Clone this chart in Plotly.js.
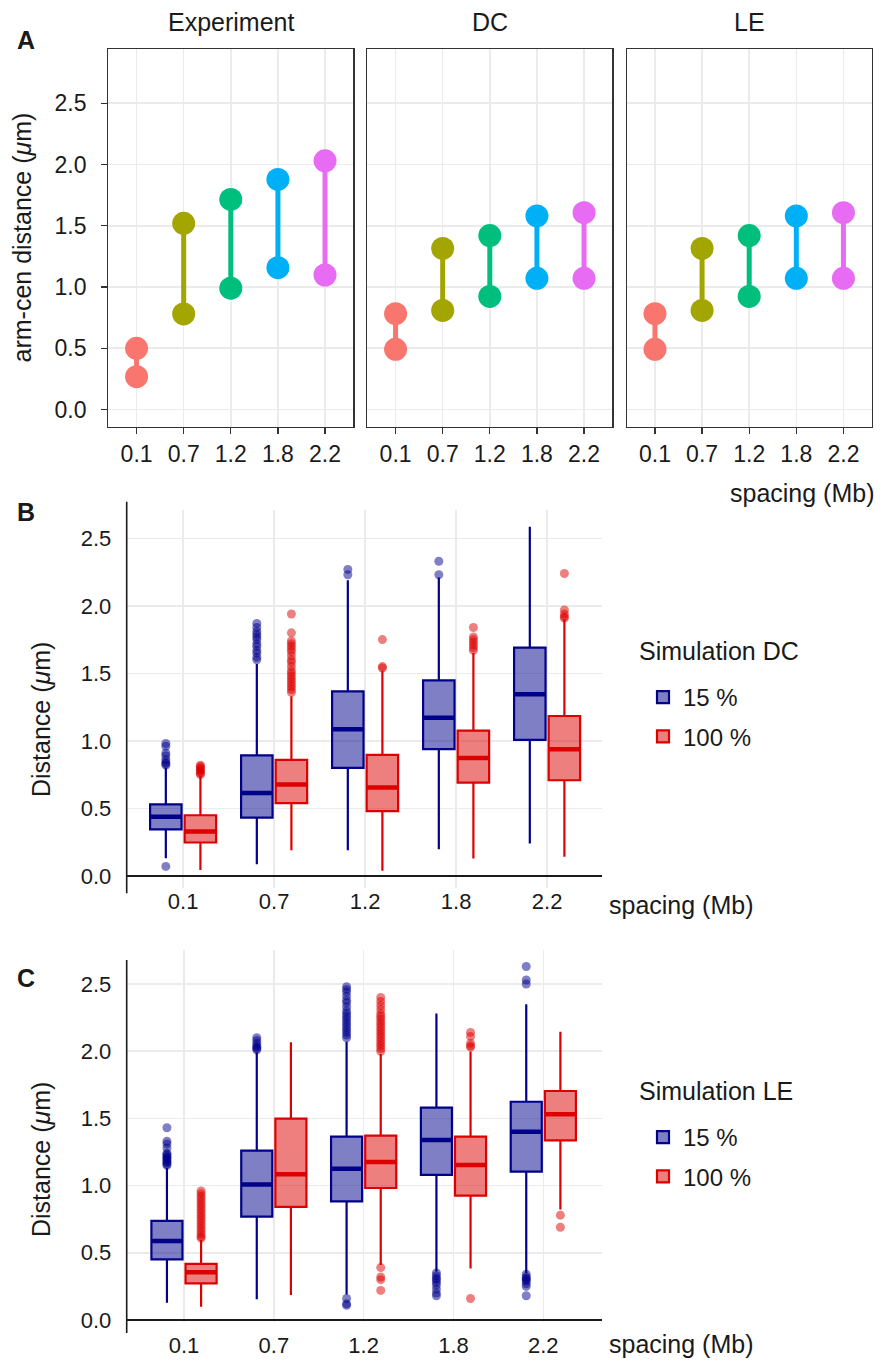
<!DOCTYPE html>
<html>
<head>
<meta charset="utf-8">
<script src="https://cdn.plot.ly/plotly-3.0.1.min.js"></script>
<style>html,body{margin:0;padding:0;background:#fff;}#chart{width:880px;height:1360px;}</style>
</head>
<body>
<div id="chart"></div>
<script>
// ---------------- DATA ----------------
const spacing = ['0.1', '0.7', '1.2', '1.8', '2.2'];
const dotColors = ['#F8766D', '#A3A500', '#00BF7D', '#00B0F6', '#E76BF3'];

// Panel A : arm-cen distance (um), two values per spacing
const expHigh = [0.50, 1.52, 1.715, 1.878, 2.03];
const expLow  = [0.268, 0.78, 0.99, 1.158, 1.098];
const dcHigh  = [0.782, 1.315, 1.42, 1.58, 1.607];
const dcLow   = [0.492, 0.809, 0.923, 1.071, 1.071];
const leHigh  = [0.782, 1.315, 1.42, 1.58, 1.607];
const leLow   = [0.492, 0.809, 0.923, 1.071, 1.071];

// Panel B : Simulation DC box statistics
const dc15Lower  = [0.13, 0.086, 0.19, 0.197, 0.239];
const dc15Q1     = [0.345, 0.432, 0.80, 0.938, 1.007];
const dc15Median = [0.437, 0.614, 1.086, 1.172, 1.345];
const dc15Q3     = [0.53, 0.893, 1.367, 1.448, 1.69];
const dc15Upper  = [0.80, 1.57, 2.19, 2.21, 2.586];
const dc15OutX = ['0.1','0.1','0.1','0.1','0.1','0.1','0.1','0.1','0.1',
  '0.7','0.7','0.7','0.7','0.7','0.7','0.7','0.7','0.7','0.7','0.7','0.7',
  '1.2','1.2','1.8','1.8'];
const dc15OutY = [0.82,0.83,0.84,0.86,0.89,0.91,0.96,0.98,0.07,
  1.60,1.62,1.65,1.67,1.70,1.72,1.75,1.77,1.79,1.81,1.84,1.87,
  2.23,2.27,2.23,2.33];

const dc100Lower  = [0.044, 0.19, 0.037, 0.128, 0.141];
const dc100Q1     = [0.247, 0.538, 0.479, 0.691, 0.708];
const dc100Median = [0.328, 0.676, 0.654, 0.873, 0.938];
const dc100Q3     = [0.449, 0.859, 0.896, 1.076, 1.184];
const dc100Upper  = [0.74, 1.33, 1.52, 1.65, 1.90];
const dc100OutX = ['0.1','0.1','0.1','0.1','0.1','0.1','0.1','0.1',
  '0.7','0.7','0.7','0.7','0.7','0.7','0.7','0.7','0.7','0.7','0.7','0.7','0.7','0.7','0.7','0.7','0.7','0.7','0.7','0.7',
  '1.2','1.2','1.2',
  '1.8','1.8','1.8','1.8','1.8','1.8','1.8',
  '2.2','2.2','2.2','2.2','2.2'];
const dc100OutY = [0.75,0.76,0.77,0.78,0.79,0.80,0.81,0.82,
  1.36,1.38,1.40,1.42,1.44,1.46,1.48,1.50,1.52,1.55,1.58,1.60,1.63,1.66,1.68,1.70,1.72,1.74,1.80,1.94,
  1.54,1.55,1.75,
  1.67,1.69,1.71,1.73,1.75,1.77,1.84,
  1.91,1.92,1.94,1.97,2.24];

// Panel C : Simulation LE box statistics
const le15Lower  = [0.129, 0.154, 0.19, 0.36, 0.35];
const le15Q1     = [0.451, 0.769, 0.883, 1.079, 1.104];
const le15Median = [0.588, 1.009, 1.126, 1.339, 1.401];
const le15Q3     = [0.737, 1.26, 1.364, 1.58, 1.624];
const le15Upper  = [1.13, 1.99, 2.07, 2.28, 2.349];
const le15OutX = ['0.1','0.1','0.1','0.1','0.1','0.1','0.1','0.1','0.1','0.1','0.1','0.1','0.1','0.1',
  '0.7','0.7','0.7','0.7','0.7','0.7','0.7',
  '1.2','1.2','1.2','1.2','1.2','1.2','1.2','1.2','1.2','1.2','1.2','1.2','1.2','1.2','1.2','1.2','1.2','1.2','1.2','1.2','1.2',
  '1.8','1.8','1.8','1.8','1.8','1.8','1.8','1.8','1.8',
  '2.2','2.2','2.2','2.2','2.2','2.2','2.2','2.2','2.2','2.2','2.2'];
const le15OutY = [1.15,1.16,1.17,1.18,1.19,1.20,1.21,1.22,1.23,1.24,1.28,1.31,1.33,1.43,
  2.01,2.02,2.03,2.04,2.06,2.08,2.10,
  2.10,2.12,2.14,2.16,2.18,2.20,2.22,2.24,2.26,2.28,2.30,2.33,2.36,2.38,2.41,2.44,2.46,2.48,0.16,0.12,0.11,
  0.35,0.33,0.31,0.30,0.28,0.26,0.23,0.20,0.18,
  2.63,2.53,2.50,0.34,0.32,0.31,0.30,0.29,0.27,0.25,0.18];

const le100Lower  = [0.099, 0.186, 0.41, 0.384, 0.823];
const le100Q1     = [0.273, 0.841, 0.982, 0.925, 1.337];
const le100Median = [0.355, 1.084, 1.176, 1.153, 1.53];
const le100Q3     = [0.417, 1.498, 1.372, 1.364, 1.704];
const le100Upper  = [0.595, 2.066, 1.98, 1.997, 2.145];
const le100OutX = ['0.1','0.1','0.1','0.1','0.1','0.1','0.1','0.1','0.1','0.1','0.1','0.1','0.1','0.1','0.1','0.1','0.1','0.1','0.1',
  '1.2','1.2','1.2','1.2','1.2','1.2','1.2','1.2','1.2','1.2','1.2','1.2','1.2','1.2','1.2','1.2','1.2','1.2','1.2','1.2','1.2','1.2','1.2',
  '1.8','1.8','1.8','1.8','1.8','1.8',
  '2.2','2.2'];
const le100OutY = [0.61,0.62,0.64,0.66,0.68,0.70,0.72,0.74,0.76,0.78,0.80,0.82,0.84,0.86,0.88,0.90,0.92,0.94,0.96,
  2.00,2.02,2.04,2.06,2.08,2.10,2.12,2.14,2.16,2.18,2.20,2.22,2.24,2.26,2.28,2.31,2.34,2.37,2.40,0.39,0.32,0.30,0.22,
  2.03,2.04,2.06,2.11,2.14,0.16,
  0.78,0.69];

const tickVals = [0, 0.5, 1, 1.5, 2, 2.5];

// ---------------- HELPERS ----------------
const W = 880, H = 1360;
const fx = p => p / W;
const fy = p => 1 - p / H;
const FONT = '"Liberation Sans", Arial, Helvetica, sans-serif';
const TXT = '#1a1a1a';
const GRID = '#EBEBEB';

const BLUE = '#00008B', BLUEFILL = 'rgba(0,0,139,0.5)', BLUEPT = 'rgba(0,0,139,0.5)';
const RED = '#DD0000', REDFILL = 'rgba(221,0,0,0.5)', REDPT = 'rgba(221,0,0,0.5)';

const traces = [];

// Panel A dumbbells
function dumbbells(hi, lo, xa, ya) {
  spacing.forEach((s, i) => {
    traces.push({
      type: 'scatter', mode: 'lines+markers',
      x: [s, s], y: [lo[i], hi[i]],
      xaxis: xa, yaxis: ya,
      line: {color: dotColors[i], width: 5},
      marker: {color: dotColors[i], size: 23},
      showlegend: false, hoverinfo: 'x+y'
    });
  });
}
dumbbells(expHigh, expLow, 'x', 'y');
dumbbells(dcHigh, dcLow, 'x2', 'y2');
dumbbells(leHigh, leLow, 'x3', 'y3');

// Box groups
function boxSet(xa, ya, leg, name, grp, lower, q1, med, q3, upper, outX, outY, lc, fc, pc) {
  traces.push({
    type: 'box', name: name, x: spacing,
    q1: q1, median: med, q3: q3, lowerfence: lower, upperfence: upper,
    xaxis: xa, yaxis: ya, legend: leg, legendgroup: grp + leg, offsetgroup: grp,
    line: {color: lc, width: 2.2}, fillcolor: fc, boxpoints: false, whiskerwidth: 0
  });
  traces.push({
    type: 'box', name: name, x: spacing,
    q1: med, median: med, q3: med, lowerfence: med, upperfence: med,
    xaxis: xa, yaxis: ya, legend: leg, legendgroup: grp + leg, offsetgroup: grp,
    line: {color: lc, width: 4.5}, fillcolor: 'rgba(0,0,0,0)', boxpoints: false,
    whiskerwidth: 0, showlegend: false, hoverinfo: 'skip'
  });
  traces.push({
    type: 'box', name: name, x: outX, y: outY,
    xaxis: xa, yaxis: ya, legend: leg, legendgroup: grp + leg, offsetgroup: grp,
    boxpoints: 'all', jitter: 0, pointpos: 0,
    line: {color: 'rgba(0,0,0,0)', width: 0}, fillcolor: 'rgba(0,0,0,0)',
    marker: {color: pc, size: 9, line: {width: 0}},
    showlegend: false, whiskerwidth: 0
  });
}
boxSet('x4', 'y4', 'legend', '15 %', 'g15', dc15Lower, dc15Q1, dc15Median, dc15Q3, dc15Upper, dc15OutX, dc15OutY, BLUE, BLUEFILL, BLUEPT);
boxSet('x4', 'y4', 'legend', '100 %', 'g100', dc100Lower, dc100Q1, dc100Median, dc100Q3, dc100Upper, dc100OutX, dc100OutY, RED, REDFILL, REDPT);
boxSet('x5', 'y5', 'legend2', '15 %', 'g15', le15Lower, le15Q1, le15Median, le15Q3, le15Upper, le15OutX, le15OutY, BLUE, BLUEFILL, BLUEPT);
boxSet('x5', 'y5', 'legend2', '100 %', 'g100', le100Lower, le100Q1, le100Median, le100Q3, le100Upper, le100OutX, le100OutY, RED, REDFILL, REDPT);

// ---------------- LAYOUT ----------------
function xA(domain, anchor) {
  return {
    domain: domain, anchor: anchor, type: 'category', categoryorder: 'array', categoryarray: spacing,
    range: [-0.6, 4.6], showline: true, mirror: true, linecolor: '#333333', linewidth: 1.2,
    ticks: 'outside', ticklen: 6, tickwidth: 1.2, tickcolor: '#333333',
    tickfont: {family: FONT, size: 23, color: TXT},
    showgrid: true, gridcolor: GRID, gridwidth: 1.6, zeroline: false, fixedrange: true
  };
}
function yA(anchor, labels) {
  return {
    domain: [fy(426.7), fy(49.3)], anchor: anchor, range: [-0.14, 2.94],
    tickvals: tickVals, tickformat: '.1f',
    showline: true, mirror: true, linecolor: '#333333', linewidth: 1.2,
    ticks: labels ? 'outside' : '', ticklen: 6, tickwidth: 1.2, tickcolor: '#333333',
    showticklabels: labels, ticklabelstandoff: 10,
    tickfont: {family: FONT, size: 23, color: TXT},
    showgrid: true, gridcolor: GRID, gridwidth: 1.6, zeroline: false, fixedrange: true
  };
}
function xB(domain, anchor, range, tlen, standoff) {
  return {
    domain: domain, anchor: anchor, type: 'category', categoryorder: 'array', categoryarray: spacing,
    range: range, showline: false, ticks: 'outside', ticklen: tlen, tickcolor: 'rgba(0,0,0,0)',
    ticklabelstandoff: standoff,
    tickfont: {family: FONT, size: 22, color: TXT},
    showgrid: true, gridcolor: GRID, gridwidth: 1.6, zeroline: false, fixedrange: true
  };
}
function yB(domain, anchor, range) {
  return {
    domain: domain, anchor: anchor, range: range, tickvals: tickVals, tickformat: '.1f',
    showline: false, ticks: 'outside', ticklen: 10, tickcolor: 'rgba(0,0,0,0)',
    tickfont: {family: FONT, size: 22, color: TXT},
    showgrid: true, gridcolor: GRID, gridwidth: 1.6,
    zeroline: true, zerolinecolor: '#1a1a1a', zerolinewidth: 1.6, fixedrange: true
  };
}

function ann(text, px, py, opts) {
  return Object.assign({
    text: text, xref: 'paper', yref: 'paper', x: fx(px), y: fy(py),
    showarrow: false, xanchor: 'center', yanchor: 'middle',
    font: {family: FONT, size: 25, color: TXT}
  }, opts || {});
}

const legendBase = {
  xanchor: 'left', yanchor: 'top',
  bgcolor: 'rgba(0,0,0,0)', traceorder: 'grouped', tracegroupgap: 5,
  font: {family: FONT, size: 24, color: TXT}
};

const layout = {
  width: W, height: H,
  margin: {l: 0, r: 0, t: 0, b: 0, pad: 0},
  paper_bgcolor: '#ffffff', plot_bgcolor: 'rgba(0,0,0,0)',
  font: {family: FONT, color: TXT},
  showlegend: true,
  boxmode: 'group', boxgap: 0.24, boxgroupgap: 0.09,
  xaxis: xA([fx(108.3), fx(353.3)], 'y'),
  xaxis2: xA([fx(367.3), fx(612.3)], 'y2'),
  xaxis3: xA([fx(626.7), fx(871.7)], 'y3'),
  yaxis: yA('x', true),
  yaxis2: yA('x2', false),
  yaxis3: yA('x3', false),
  xaxis4: xB([fx(126.7), fx(601.7)], 'y4', [-0.62, 4.6], 0, -6),
  yaxis4: yB([fy(888), fy(510)], 'x4', [-0.09, 2.71]),
  xaxis5: xB([fx(126.7), fx(601.7)], 'y5', [-0.638, 4.65], 4, 0),
  yaxis5: yB([fy(1322), fy(950)], 'x5', [-0.015, 2.753]),
  legend: Object.assign({x: fx(643), y: fy(675)}, legendBase),
  legend2: Object.assign({x: fx(643), y: fy(1115)}, legendBase),
  shapes: [
    {type: 'line', xref: 'paper', yref: 'paper', x0: fx(126.7), x1: fx(126.7), y0: fy(501.7), y1: fy(893.3),
     line: {color: '#1a1a1a', width: 1.6}},
    {type: 'line', xref: 'paper', yref: 'paper', x0: fx(126.7), x1: fx(126.7), y0: fy(960), y1: fy(1333),
     line: {color: '#1a1a1a', width: 1.6}}
  ],
  annotations: [
    ann('Experiment', 230.8, 22),
    ann('DC', 489.8, 22),
    ann('LE', 749.2, 22),
    ann('<b>A</b>', 26, 40),
    ann('<b>B</b>', 26, 512),
    ann('<b>C</b>', 26, 978),
    ann('arm-cen distance (<i>μ</i>m)', 22, 237.5, {textangle: -90}),
    ann('spacing (Mb)', 877, 493, {xanchor: 'right'}),
    ann('Distance (<i>μ</i>m)', 41, 720, {textangle: -90}),
    ann('spacing (Mb)', 606.7, 905, {xanchor: 'left'}),
    ann('Distance (<i>μ</i>m)', 41, 1160, {textangle: -90}),
    ann('spacing (Mb)', 606.7, 1344, {xanchor: 'left'}),
    ann('Simulation DC', 636.7, 651, {xanchor: 'left'}),
    ann('Simulation LE', 636.7, 1091, {xanchor: 'left'})
  ]
};

Plotly.newPlot('chart', traces, layout, {staticPlot: true, displayModeBar: false});
</script>
</body>
</html>
